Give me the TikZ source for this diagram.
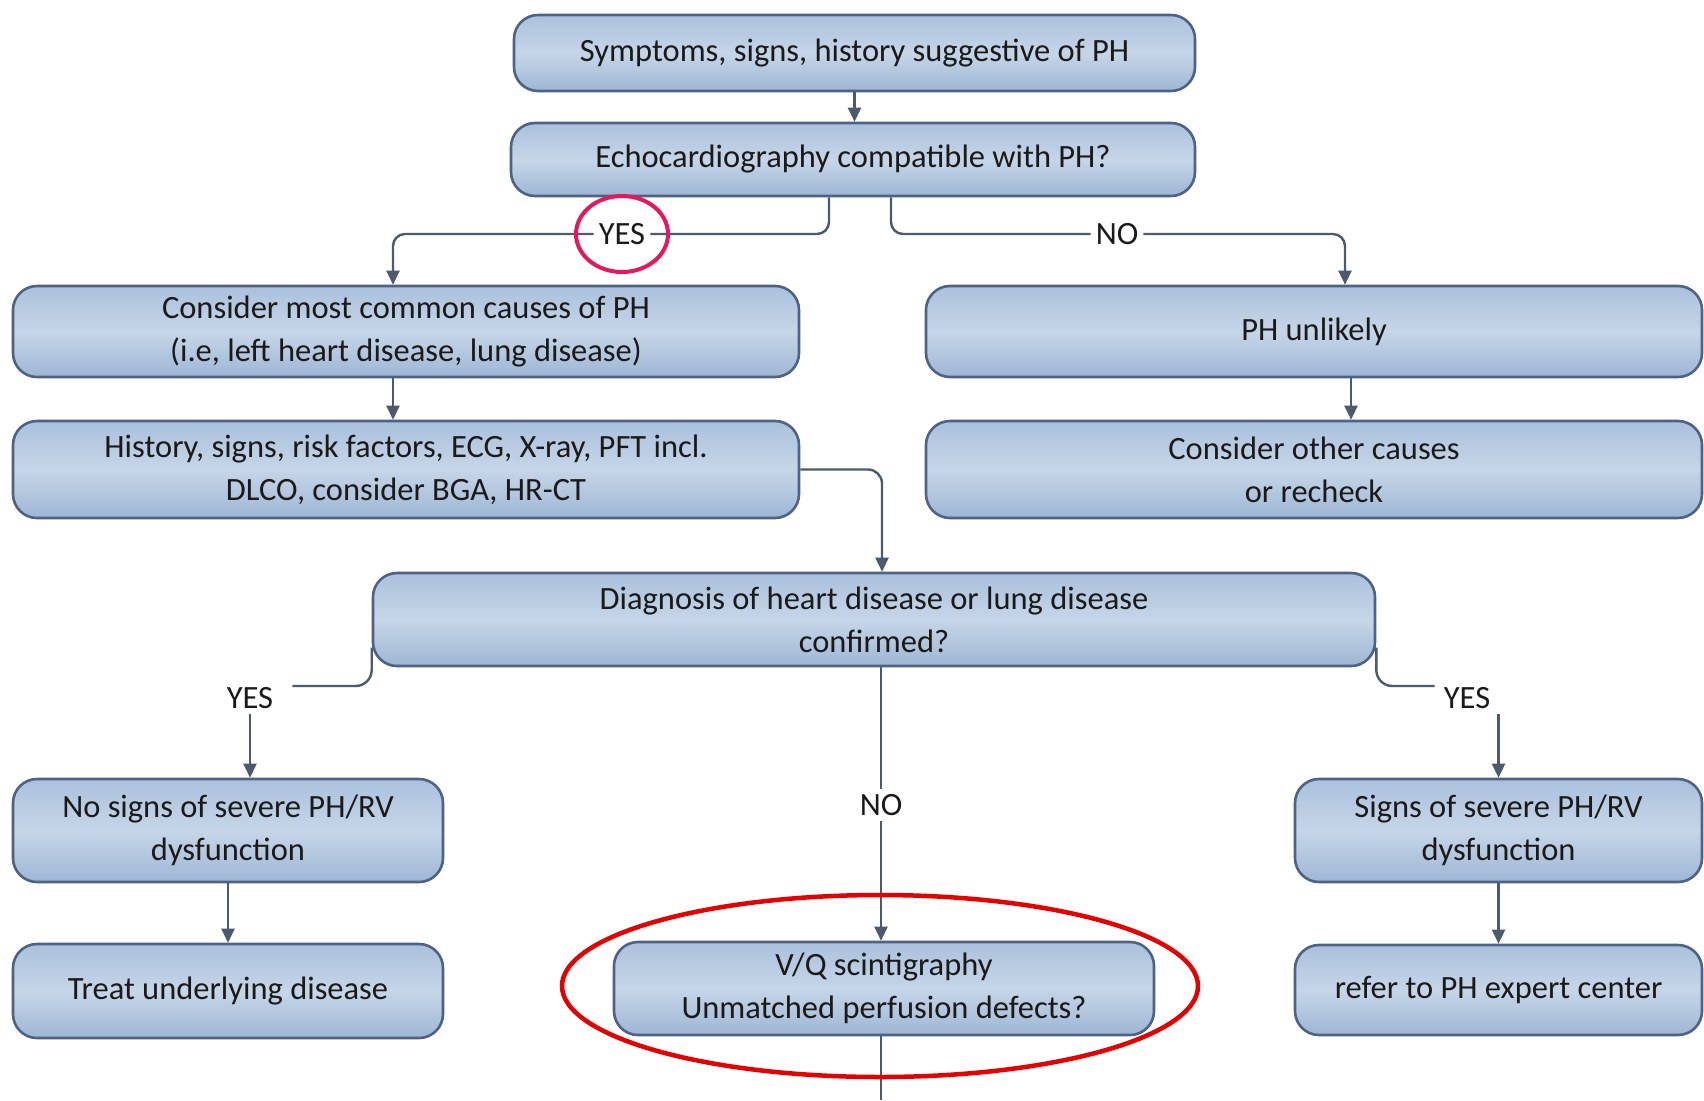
\documentclass[tikz,border=0pt]{standalone}
\usepackage{fontspec}
\setmainfont{Carlito}
\usetikzlibrary{arrows.meta,calc,shapes.geometric}
\definecolor{boxline}{HTML}{4E6286}
\definecolor{boxtop}{HTML}{AAC0DC}
\definecolor{boxmid}{HTML}{C6D6E8}
\definecolor{boxbot}{HTML}{9EB6D4}
\definecolor{linec}{HTML}{4D5A6E}
\definecolor{textc}{HTML}{1A1A1A}
\definecolor{pinkc}{HTML}{E8175D}
\definecolor{redc}{HTML}{E60000}
\begin{document}
\begin{tikzpicture}[x=1pt,y=-1pt,
  box/.style={rounded corners=24, draw=boxline, line width=2.6, top color=boxtop, bottom color=boxbot, middle color=boxmid, align=center, font=\fontsize{32.5}{43}\selectfont, text=textc, inner sep=0},
  lab/.style={font=\fontsize{32.5}{43}\selectfont, text=textc, inner sep=5},
  conn/.style={draw=linec, line width=2.4},
  arr/.style={conn, -{Triangle[width=13pt,length=14pt]}}]
\useasboundingbox (0,0) rectangle (1704,1100);
\fill[white] (0,0) rectangle (1704,1100);

\node[box, minimum width=681, minimum height=76] (b1) at (854.5,53) {Symptoms, signs, history suggestive of PH};
\node[box, minimum width=684, minimum height=73] (b2) at (853,159.5) {Echocardiography compatible with PH?};
\node[box, minimum width=786, minimum height=91] (b3) at (406,331.5) {Consider most common causes of PH\\(i.e, left heart disease, lung disease)};
\node[box, minimum width=786, minimum height=97] (b4) at (406,469.5) {History, signs, risk factors, ECG, X-ray, PFT incl.\\DLCO, consider BGA, HR-CT};
\node[box, minimum width=776, minimum height=91] (phu) at (1314,331.5) {PH unlikely};
\node[box, minimum width=776, minimum height=97] (oth) at (1314,469.5) {Consider other causes\\or recheck};
\node[box, minimum width=1002, minimum height=93] (diag) at (874,619.5) {Diagnosis of heart disease or lung disease\\confirmed?};
\node[box, minimum width=430, minimum height=103] (ns) at (228,830.5) {No signs of severe PH/RV\\dysfunction};
\node[box, minimum width=430, minimum height=94] (tr) at (228,991) {Treat underlying disease};
\node[box, minimum width=540, minimum height=93] (vq) at (884,988.5) {V/Q scintigraphy\\Unmatched perfusion defects?};
\node[box, minimum width=407, minimum height=103] (sg) at (1498.5,830.5) {Signs of severe PH/RV\\dysfunction};
\node[box, minimum width=407, minimum height=90] (rf) at (1498.5,990) {refer to PH expert center};

\node[lab] (yes1) at (622,234) {YES};
\node[lab] (no1) at (1117,234) {NO};
\node[lab] (yes2) at (250,698) {YES};
\node[lab] (yes3) at (1467,698) {YES};
\node[lab] (no2) at (881,805) {NO};
\coordinate (tail) at (881,1100);

\draw[arr] (b1.south) -- (b1.south |- b2.north);
\draw[conn, rounded corners=12] ([xshift=-24pt]b2.south) |- (yes1.east);
\draw[arr, rounded corners=12] (yes1.west) -| ([xshift=-13pt]b3.north);
\draw[conn, rounded corners=12] ([xshift=38pt]b2.south) |- (no1.west);
\draw[arr, rounded corners=12] (no1.east) -| ([xshift=31pt]phu.north);
\draw[arr] ([xshift=-13pt]b3.south) -- ([xshift=-13pt]b4.north);
\draw[arr] ([xshift=37pt]phu.south) -- ([xshift=37pt]oth.north);
\draw[arr, rounded corners=14] (b4.east) -| ([xshift=8pt]diag.north);
\draw[conn, rounded corners=16] ([yshift=-28pt]diag.west) |- ([xshift=14pt,yshift=12pt]yes2.east);
\draw[conn, rounded corners=16] ([yshift=-28pt]diag.east) |- ([xshift=-4pt,yshift=12pt]yes3.west);
\draw[arr] (yes2.south) -- (yes2.south |- ns.north);
\draw[arr] (sg.north |- yes3.south) -- (sg.north);
\draw[arr] (ns.south) -- (ns.south |- tr.north);
\draw[arr] (sg.south) -- (rf.north);
\draw[conn] (no2 |- diag.south) -- (no2.north);
\draw[arr] (no2.south) -- (no2 |- vq.north);
\draw[conn] (no2 |- vq.south) -- (tail);

\node[draw=pinkc, line width=4, ellipse, minimum width=92, minimum height=76] (c1) at (yes1) {};
\node[draw=redc, line width=4.5, ellipse, minimum width=636, minimum height=182] (c2) at (880,986) {};
\end{tikzpicture}
\end{document}
